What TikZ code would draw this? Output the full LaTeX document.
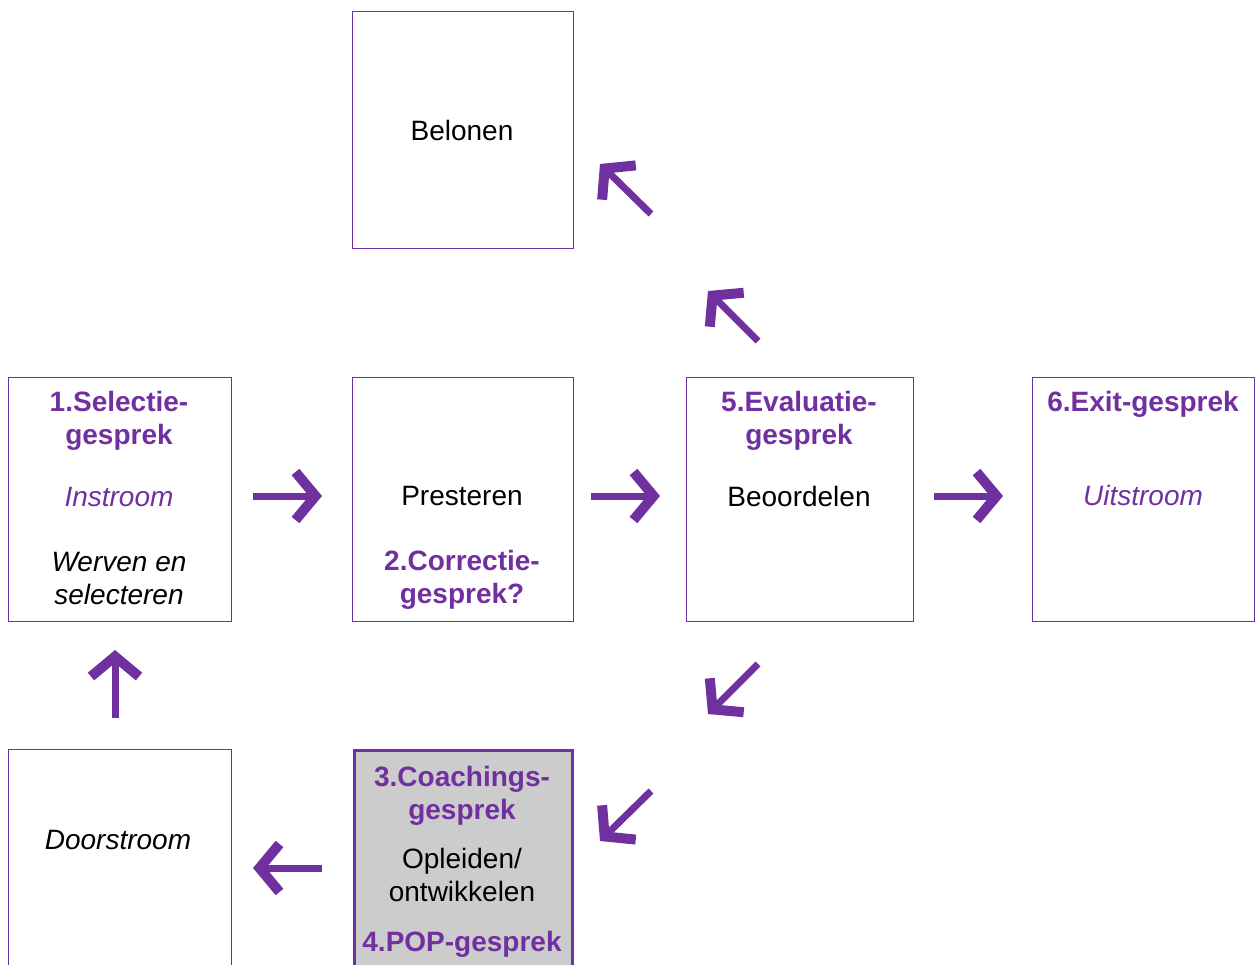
\documentclass[tikz,border=0pt]{standalone}
\usepackage{fontspec}
\setmainfont{Liberation Sans}
\usetikzlibrary{arrows.meta}
\definecolor{paars}{HTML}{7030A0}
\definecolor{grijs}{HTML}{CCCCCC}
\tikzset{
  fase/.style={draw=paars, line width=1pt, inner sep=0pt, outer sep=0pt, anchor=north west},
  pijl/.style={draw=paars, line width=7pt, line join=miter,
    -{Straight Barb[length=20pt, width=48pt, line width=10pt 0, line join=miter, line cap=butt]}},
  kop/.style={text=paars, font=\fontsize{28}{33}\selectfont\bfseries, align=center},
  tekst/.style={font=\fontsize{28}{33}\selectfont, align=center},
  schuin/.style={font=\fontsize{28}{33}\selectfont\itshape, align=center},
}
\begin{document}
\begin{tikzpicture}[x=1pt, y=-1pt]
\useasboundingbox (0,0) rectangle (1255,965);
% vakken
\node[fase, minimum width=221pt, minimum height=237pt] (belonen) at (352,12) {};
\node[fase, minimum width=223pt, minimum height=244pt] (selectie) at (8,377) {};
\node[fase, minimum width=221pt, minimum height=244pt] (presteren) at (352,377) {};
\node[fase, minimum width=227pt, minimum height=244pt] (evaluatie) at (686,377) {};
\node[fase, minimum width=222pt, minimum height=244pt] (exit) at (1032,377) {};
\node[fase, minimum width=223pt, minimum height=230pt] (doorstroom) at (8,749) {};
\node[fase, fill=grijs, line width=3pt, minimum width=218pt, minimum height=230pt] (coaching) at (354,750) {};
% teksten
\node[tekst] (tbelonen) at (462,130) {Belonen};
\node[kop] (tselectie) at (119,421) {1.Selectie-\\gesprek};
\node[schuin, text=paars] (tinstroom) at (119,497) {Instroom};
\node[schuin] (twerven) at (119,579) {Werven en\\selecteren};
\node[tekst] (tpresteren) at (462,496) {Presteren};
\node[kop] (tcorrectie) at (462,580) {2.Correctie-\\gesprek?};
\node[kop] (tevaluatie) at (799,421) {5.Evaluatie-\\gesprek};
\node[tekst] (tbeoordelen) at (799,496) {Beoordelen};
\node[kop] (texit) at (1143,404) {6.Exit-gesprek};
\node[schuin, text=paars] (tuitstroom) at (1143,495) {Uitstroom};
\node[schuin] (tdoorstroom) at (118,840) {Doorstroom};
\node[kop] (tcoaching) at (462,796) {3.Coachings-\\gesprek};
\node[tekst] (topleiden) at (462,875) {Opleiden/\\ontwikkelen};
\node[kop] (tpop) at (462,944) {4.POP-gesprek};
% pijlen
\coordinate (a1) at (253,496); \coordinate (b1) at (322,496);
\coordinate (a2) at (591,496); \coordinate (b2) at (660,496);
\coordinate (a3) at (934,496); \coordinate (b3) at (1003,496);
\coordinate (a4) at (115,718); \coordinate (b4) at (115,650);
\coordinate (a5) at (322,868); \coordinate (b5) at (253,868);
\coordinate (a6) at (758,341); \coordinate (b6) at (708,291);
\coordinate (a7) at (651,214); \coordinate (b7) at (600,164);
\coordinate (a8) at (758,664); \coordinate (b8) at (708,714);
\coordinate (a9) at (651,791); \coordinate (b9) at (600,841);
\foreach \i in {1,...,9} \draw[pijl] (a\i) -- (b\i);
\end{tikzpicture}
\end{document}
